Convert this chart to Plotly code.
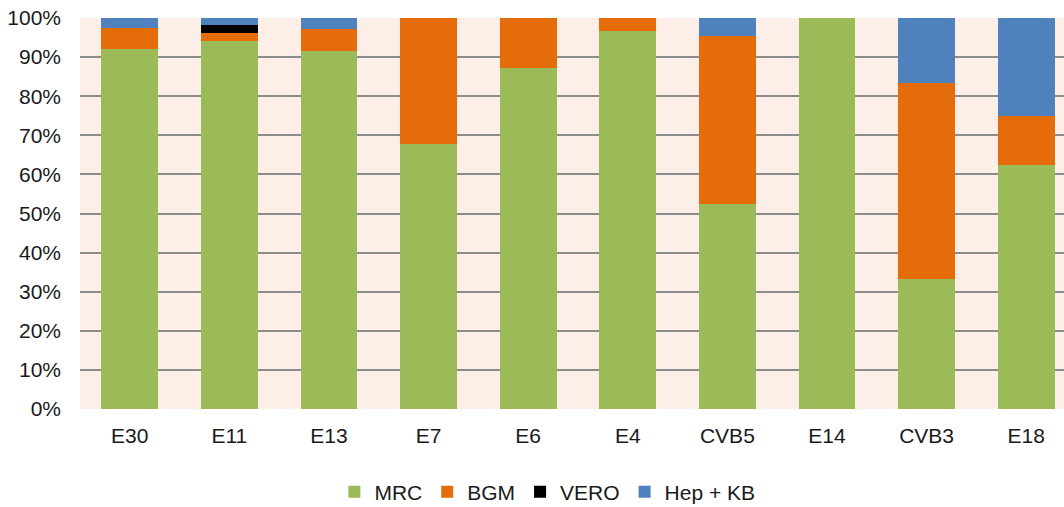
import plotly.graph_objects as go

# Share of isolates per cell line, per serotype (percent)
categories = ["E30", "E11", "E13", "E7", "E6", "E4", "CVB5", "E14", "CVB3", "E18"]
mrc = [92.2, 94.1, 91.6, 67.8, 87.2, 96.7, 52.4, 100.0, 33.3, 62.5]
bgm = [5.3, 2.0, 5.7, 32.2, 12.8, 3.3, 43.1, 0.0, 50.0, 12.5]
vero = [0.0, 2.0, 0.0, 0.0, 0.0, 0.0, 0.0, 0.0, 0.0, 0.0]
hep_kb = [2.5, 1.9, 2.7, 0.0, 0.0, 0.0, 4.5, 0.0, 16.7, 25.0]

series = [
    ("MRC", mrc, "#9BBB59"),
    ("BGM", bgm, "#E46C0A"),
    ("VERO", vero, "#000000"),
    ("Hep + KB", hep_kb, "#4F81BD"),
]

fig = go.Figure()
for name, vals, color in series:
    fig.add_trace(go.Bar(
        name=name, x=categories, y=vals,
        marker=dict(color=color, line=dict(width=0)),
    ))

tick_vals = list(range(0, 101, 10))
tick_text = [f"{v}%" for v in tick_vals]

FONT = "Liberation Sans"
TXT = "#1a1a1a"
SIZE = 21

fig.update_layout(
    barmode="stack",
    bargap=0.43,
    width=1064, height=507,
    margin=dict(l=80, r=0, t=18, b=98, autoexpand=False),
    paper_bgcolor="white",
    plot_bgcolor="#FDEEE8",
    font=dict(family=FONT, size=SIZE, color=TXT),
    xaxis=dict(
        range=[-0.5, 9.38],
        showgrid=False, zeroline=False, showline=False,
        ticks="", ticklabelstandoff=12,
        tickfont=dict(family=FONT, size=SIZE, color=TXT),
    ),
    yaxis=dict(
        range=[0, 100],
        tickvals=tick_vals, ticktext=tick_text,
        showgrid=True, gridcolor="#8C8C8C", gridwidth=1.5,
        zeroline=False, showline=False, ticks="",
        ticklabelstandoff=18,
        tickfont=dict(family=FONT, size=SIZE, color=TXT),
    ),
    legend=dict(
        orientation="h", x=0.475, xanchor="center", y=-0.16, yanchor="top",
        font=dict(family=FONT, size=SIZE, color=TXT), traceorder="normal",
        itemwidth=30,
    ),
)

fig.write_html("out.html")
